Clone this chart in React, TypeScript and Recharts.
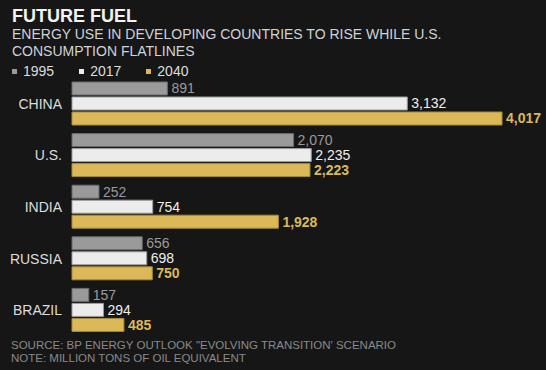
import { BarChart, Bar, XAxis, YAxis, LabelList } from "recharts";

// Energy use, million tons of oil equivalent
const countries = ["CHINA", "U.S.", "INDIA", "RUSSIA", "BRAZIL"];
const y1995 = [891, 2070, 252, 656, 157];
const y2017 = [3132, 2235, 754, 698, 294];
const y2040 = [4017, 2223, 1928, 750, 485];

const data = countries.map((c, i) => ({
  country: c,
  y1995: y1995[i],
  y2017: y2017[i],
  y2040: y2040[i],
}));

const BG = "#161616";
const FONT = "'Liberation Sans', Arial, sans-serif";
const fmt = (v: number) => v.toLocaleString("en-US");

const series = [
  { key: "y1995", label: "1995", fill: "#9a9a9a", stroke: "#6b6b6b", text: "#9a9a9a", bold: false },
  { key: "y2017", label: "2017", fill: "#ececec", stroke: "#9c9c9c", text: "#eeeeee", bold: false },
  { key: "y2040", label: "2040", fill: "#dbb958", stroke: "#a78a3c", text: "#dbb958", bold: true },
];

function CountryTick({ x, y, payload }: any) {
  return (
    <text x={x} y={y} dy={5} textAnchor="end" fill="#dddddd" fontSize={14} fontFamily={FONT}>
      {payload.value}
    </text>
  );
}

export default function App() {
  return (
    <div
      style={{
        position: "fixed",
        left: 0,
        top: 0,
        width: 546,
        height: 370,
        background: BG,
        fontFamily: FONT,
        overflow: "hidden",
      }}
    >
      <div style={{ position: "absolute", left: 12, top: 6, color: "#f2f2f2", fontSize: 18, fontWeight: 700 }}>
        FUTURE FUEL
      </div>
      <div
        style={{
          position: "absolute",
          left: 12,
          top: 26,
          color: "#cfd3d8",
          fontSize: 14,
          lineHeight: "16.5px",
          width: 530,
        }}
      >
        ENERGY USE IN DEVELOPING COUNTRIES TO RISE WHILE U.S.
        <br />
        CONSUMPTION FLATLINES
      </div>
      <div style={{ position: "absolute", left: 12, top: 63, display: "flex", fontSize: 14, color: "#dddddd" }}>
        {series.map((s, i) => (
          <div key={s.key} style={{ display: "flex", alignItems: "center", marginRight: i < 2 ? 25 : 0 }}>
            <span style={{ width: 5, height: 5, background: s.fill, marginRight: 6, display: "inline-block" }} />
            <span>{s.label}</span>
          </div>
        ))}
      </div>

      <BarChart
        width={546}
        height={370}
        data={data}
        layout="vertical"
        margin={{ top: 78, right: 3, bottom: 34, left: 0 }}
        barSize={13}
        barGap={2}
        style={{ position: "absolute", left: 0, top: 0 }}
      >
        <XAxis type="number" domain={[0, 4400]} hide />
        <YAxis
          type="category"
          dataKey="country"
          width={72}
          axisLine={false}
          tickLine={false}
          tickSize={0}
          tickMargin={10}
          tick={<CountryTick />}
        />
        {series.map((s) => (
          <Bar key={s.key} dataKey={s.key} fill={s.fill} stroke={s.stroke} strokeWidth={1} isAnimationActive={false}>
            <LabelList
              dataKey={s.key}
              position="right"
              offset={4}
              formatter={fmt}
              fill={s.text}
              fontSize={14}
              fontFamily={FONT}
              fontWeight={s.bold ? 700 : 400}
            />
          </Bar>
        ))}
      </BarChart>

      <div
        style={{
          position: "absolute",
          left: 11,
          top: 339,
          color: "#8a8a8a",
          fontSize: 11.5,
          lineHeight: "12.5px",
        }}
      >
        SOURCE: BP ENERGY OUTLOOK "EVOLVING TRANSITION' SCENARIO
        <br />
        NOTE: MILLION TONS OF OIL EQUIVALENT
      </div>
    </div>
  );
}
